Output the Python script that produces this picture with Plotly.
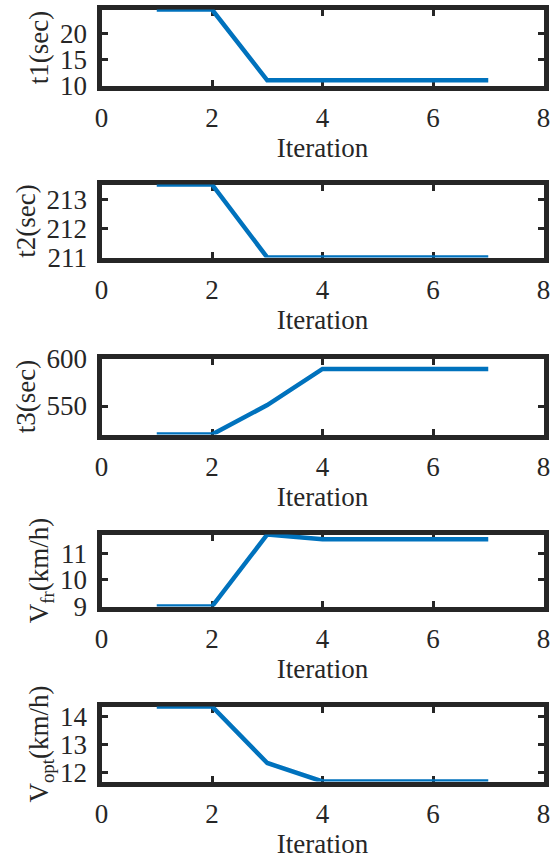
import plotly.graph_objects as go

# ---- data ----
iteration = [1, 2, 3, 4, 5, 6, 7]
t1 = [24.5, 24.5, 11.0, 11.0, 11.0, 11.0, 11.0]
t2 = [213.5, 213.5, 211.0, 211.0, 211.0, 211.0, 211.0]
t3 = [520, 520, 551, 589, 589, 589, 589]
v_fr = [9.0, 9.0, 11.7, 11.52, 11.52, 11.52, 11.52]
v_opt = [14.37, 14.37, 12.33, 11.66, 11.66, 11.66, 11.66]

y_titles = ["t1(sec)", "t2(sec)", "t3(sec)",
            "V<sub>fr</sub>(km/h)", "V<sub>opt</sub>(km/h)"]
y_ranges = [[10, 24.5], [211, 213.5], [520, 600], [9, 11.7], [11.66, 14.37]]
y_ticks = [[10, 15, 20], [211, 212, 213], [550, 600], [9, 10, 11], [12, 13, 14]]
x_range = [0, 8]
x_ticks = [0, 2, 4, 6, 8]
x_title = "Iteration"

series = [t1, t2, t3, v_fr, v_opt]

# ---- layout constants ----
W, H = 557, 859
LW = 5
box_left, box_right = 99, 546
box_tops = [7, 182, 356, 532, 704]
box_bottoms = [88, 260, 437, 609, 784]
FONT = "Liberation Serif"
FS = 27
INK = "#262626"
BLUE = "#0072BD"

fig = go.Figure()
layout = dict(
    width=W, height=H,
    margin=dict(l=0, r=0, t=0, b=0, autoexpand=False),
    paper_bgcolor="white", plot_bgcolor="white",
    showlegend=False,
    font=dict(family=FONT, size=FS, color=INK),
)

half = LW / 2
xd = [(box_left + half) / W, (box_right - half) / W]

for i, ys in enumerate(series):
    n = "" if i == 0 else str(i + 1)
    fig.add_trace(go.Scatter(
        x=iteration, y=ys, mode="lines",
        line=dict(color=BLUE, width=4.5),
        xaxis="x" + n, yaxis="y" + n,
    ))
    yd = [1 - (box_bottoms[i] - half) / H, 1 - (box_tops[i] + half) / H]
    common = dict(
        showline=True, linewidth=LW, linecolor=INK, mirror="allticks",
        ticks="inside", ticklen=6, tickwidth=3, tickcolor=INK,
        showgrid=False, zeroline=False, automargin=False,
        tickfont=dict(family=FONT, size=FS, color=INK),
        layer="below traces",
    )
    layout["xaxis" + n] = dict(
        domain=xd, range=x_range, tickvals=x_ticks,
        anchor="y" + n,
        title=dict(text=x_title, standoff=5, font=dict(family=FONT, size=FS, color=INK)),
        ticklabelstandoff=4,
        **common,
    )
    layout["yaxis" + n] = dict(
        domain=yd, range=y_ranges[i], tickvals=y_ticks[i],
        anchor="x" + n,
        title=dict(text=y_titles[i], standoff=5, font=dict(family=FONT, size=FS, color=INK)),
        ticklabelstandoff=4,
        **common,
    )

fig.update_layout(**layout)
fig.write_html(
    "out.html",
    config={"displayModeBar": False},
    post_script="document.body.style.margin='0';document.body.style.overflow='hidden';",
)
